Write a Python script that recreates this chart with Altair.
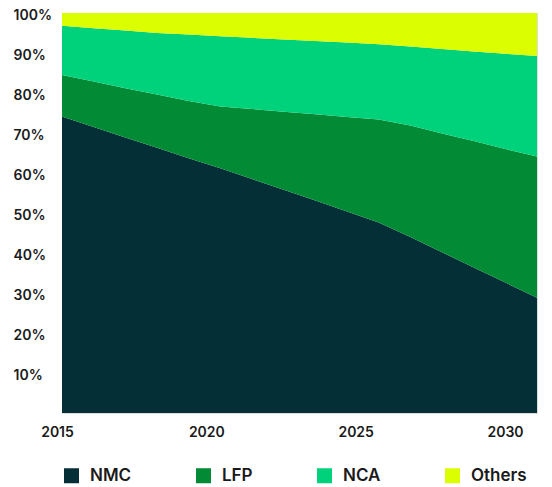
import altair as alt
import pandas as pd

# Battery cathode chemistry market share (%), 2015-2030
years = list(range(2015, 2031))
nmc = [74.1, 71.5, 68.9, 66.3, 63.7, 61.2, 58.5, 55.8, 53.1, 50.4, 47.6, 44.0, 40.2, 36.4, 32.6, 28.8]
lfp = [10.4, 11.4, 12.3, 13.3, 14.3, 15.4, 17.5, 19.5, 21.6, 23.6, 25.8, 27.9, 29.7, 31.6, 33.4, 35.3]
nca = [12.3, 13.3, 14.4, 15.4, 16.6, 17.6, 17.8, 18.1, 18.3, 18.6, 18.8, 19.7, 21.1, 22.4, 23.8, 25.15]
others = [3.2, 3.8, 4.4, 5.0, 5.4, 5.8, 6.2, 6.6, 7.0, 7.4, 7.8, 8.4, 9.0, 9.6, 10.2, 10.75]

series_names = ["NMC", "LFP", "NCA", "Others"]
series_colors = ["#042f36", "#028a35", "#00d27b", "#dbff00"]
x_ticks = [2015, 2020, 2025, 2030]
y_ticks = [10, 20, 30, 40, 50, 60, 70, 80, 90, 100]

rows = []
for order, (name, vals) in enumerate(zip(series_names, [nmc, lfp, nca, others])):
    for yr, v in zip(years, vals):
        rows.append({"year": yr, "chemistry": name, "share": v, "ord": order})
df = pd.DataFrame(rows)

FONT = "Inter"

chart = (
    alt.Chart(df)
    .mark_area(interpolate="linear")
    .encode(
        x=alt.X(
            "year:Q",
            scale=alt.Scale(domain=[2015, 2030], nice=False, zero=False),
            axis=alt.Axis(
                values=x_ticks,
                format="d",
                title=None,
                grid=False,
                ticks=False,
                domain=False,
                labelPadding=12,
                labelFontSize=14,
                labelFontWeight=600,
                labelFont=FONT,
                labelColor="#1a1a1a",
                labelFlush=False,
                labelOffset={
                    "condition": [
                        {"test": "datum.value == 2020", "value": -14},
                        {"test": "datum.value == 2025", "value": -23},
                        {"test": "datum.value == 2030", "value": -32},
                    ],
                    "value": -5,
                },
            ),
        ),
        y=alt.Y(
            "share:Q",
            stack="zero",
            scale=alt.Scale(domain=[0, 100], nice=False),
            axis=alt.Axis(
                values=y_ticks,
                labelExpr="datum.value + '%'",
                title=None,
                grid=False,
                ticks=False,
                domain=False,
                labelAlign="left",
                labelBaseline="middle",
                labelPadding=49,
                labelOffset=2,
                labelFontSize=14,
                labelFontWeight=600,
                labelFont=FONT,
                labelColor="#1a1a1a",
                labelFlush=False,
            ),
        ),
        color=alt.Color(
            "chemistry:N",
            scale=alt.Scale(domain=series_names, range=series_colors),
            legend=alt.Legend(
                title=None,
                orient="none",
                legendX=1,
                legendY=454,
                direction="horizontal",
                symbolType="square",
                symbolSize=225,
                symbolStrokeWidth=0,
                symbolOpacity=1,
                labelFontSize=17,
                labelFontWeight=600,
                labelFont=FONT,
                labelColor="#1a1a1a",
                labelOffset=10,
                columnPadding=63,
                padding=0,
            ),
        ),
        order=alt.Order("ord:Q", sort="ascending"),
    )
    .properties(
        width=475,
        height=400,
        padding={"left": 62, "top": 13, "right": 15, "bottom": 74},
        autosize=alt.AutoSizeParams(type="none"),
    )
    .configure_view(stroke=None)
    .configure(background="white")
)

chart.save("out.html", embed_options={"renderer": "svg", "actions": False})
